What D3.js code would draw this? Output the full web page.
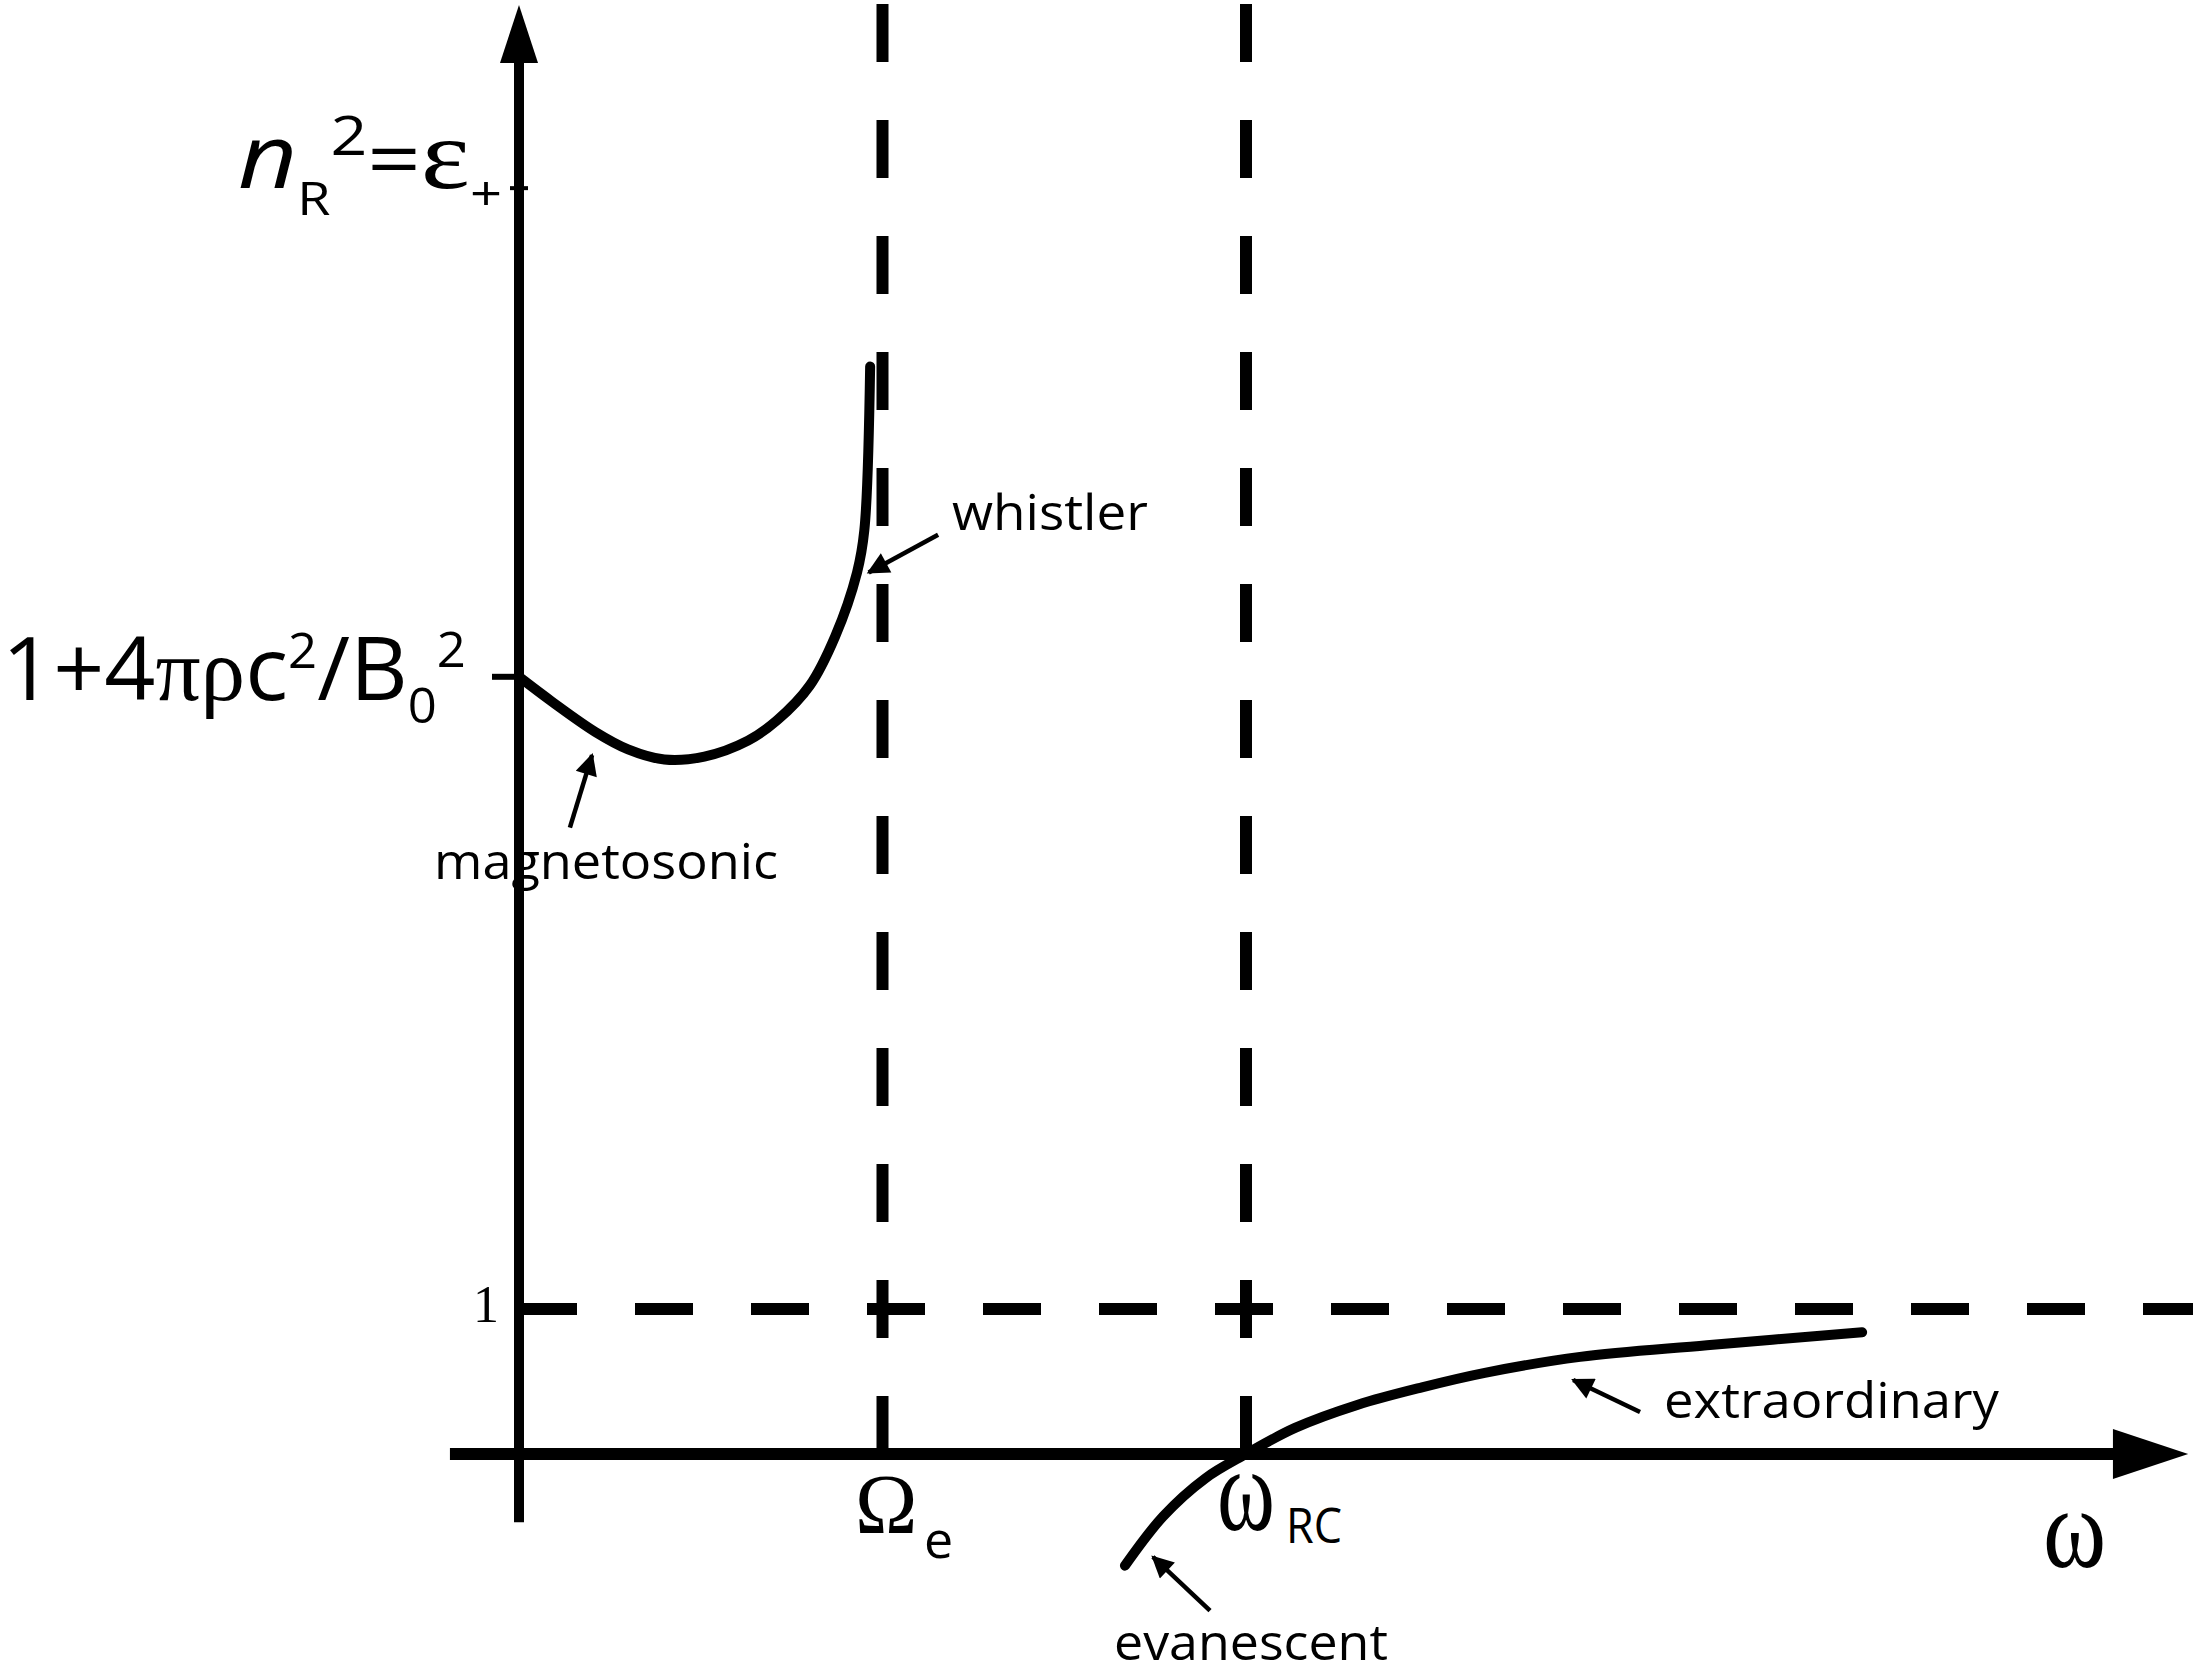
<!DOCTYPE html>
<html>
<head>
<meta charset="utf-8">
<script src="https://cdn.jsdelivr.net/npm/d3@7"></script>
<style>
  body { margin: 0; background: #fff; }
</style>
</head>
<body>
<script>
// Curve data (omega in units where Omega_e = 1, omega_RC = 2; n_R^2 with 1 at the dashed line)
const magnetoOmega = [0, 0.09, 0.21, 0.30, 0.40, 0.51, 0.63, 0.71, 0.80, 0.87, 0.93, 0.95, 0.966];
const magnetoN2 = [5.36, 5.19, 4.98, 4.86, 4.79, 4.81, 4.92, 5.06, 5.30, 5.64, 6.08, 6.37, 7.50];

const extraOmega = [1.667, 1.772, 1.887, 2.0, 2.135, 2.308, 2.484, 2.657, 2.919, 3.268, 3.695];
const extraN2 = [-0.77, -0.43, -0.17, 0, 0.18, 0.34, 0.46, 0.56, 0.67, 0.75, 0.84];

// Marked frequencies and levels
const resonances = [1, 2];          // Omega_e, omega_RC
const unityLevel = 1;
const b0Level = 5.36;               // 1 + 4 pi rho c^2 / B0^2
const epsLevel = 8.73;              // n_R^2 = eps_+

// Annotation arrows: [fromOmega, fromN2, toOmega, toN2]
const pointers = [
  [1.153, 6.34, 0.962, 6.08],   // whistler
  [0.140, 4.32, 0.201, 4.82],   // magnetosonic
  [1.901, -1.08, 1.744, -0.71], // evanescent
  [3.084, 0.29, 2.900, 0.51]    // extraordinary
];

const width = 2193;
const height = 1677;

const x = d3.scaleLinear().domain([0, 2]).range([519, 1246]);
const y = d3.scaleLinear().domain([0, 1]).range([1454, 1309]);

const svg = d3.select('body')
  .append('svg')
  .attr('width', width)
  .attr('height', height);

svg.append('defs')
  .append('marker')
  .attr('id', 'head')
  .attr('viewBox', '0 0 10 10')
  .attr('refX', 9)
  .attr('refY', 5)
  .attr('markerWidth', 26)
  .attr('markerHeight', 22)
  .attr('markerUnits', 'userSpaceOnUse')
  .attr('orient', 'auto')
  .append('path')
  .attr('d', 'M0,0L10,5L0,10z')
  .attr('fill', '#000');

// Dashed resonance lines
svg.selectAll('line.res')
  .data(resonances)
  .enter()
  .append('line')
  .attr('class', 'res')
  .attr('x1', d => x(d))
  .attr('x2', d => x(d))
  .attr('y1', y(10.0))
  .attr('y2', y(0))
  .attr('stroke', '#000')
  .attr('stroke-width', 12)
  .attr('stroke-dasharray', '58,58');

// Dashed line at n^2 = 1
svg.append('line')
  .attr('x1', x(0))
  .attr('x2', width)
  .attr('y1', y(unityLevel))
  .attr('y2', y(unityLevel))
  .attr('stroke', '#000')
  .attr('stroke-width', 12)
  .attr('stroke-dasharray', '58,58');

// Axes
svg.append('line')
  .attr('x1', x(0)).attr('x2', x(0))
  .attr('y1', y(-0.47)).attr('y2', y(9.6))
  .attr('stroke', '#000')
  .attr('stroke-width', 10);

svg.append('polygon')
  .attr('points', [[x(0), y(9.993)], [x(0) - 19, y(9.593)], [x(0) + 19, y(9.593)]].join(' '))
  .attr('fill', '#000');

svg.append('line')
  .attr('x1', x(-0.19)).attr('x2', x(4.39))
  .attr('y1', y(0)).attr('y2', y(0))
  .attr('stroke', '#000')
  .attr('stroke-width', 12);

svg.append('polygon')
  .attr('points', [[x(4.592), y(0)], [x(4.385), y(0) - 25], [x(4.385), y(0) + 25]].join(' '))
  .attr('fill', '#000');

// Ticks on the vertical axis
svg.append('line')
  .attr('x1', x(0) - 27).attr('x2', x(0))
  .attr('y1', y(b0Level)).attr('y2', y(b0Level))
  .attr('stroke', '#000').attr('stroke-width', 6);

svg.append('line')
  .attr('x1', x(0) - 9).attr('x2', x(0) + 9)
  .attr('y1', y(epsLevel)).attr('y2', y(epsLevel))
  .attr('stroke', '#000').attr('stroke-width', 4);

// Curves
const line = d3.line()
  .x(d => x(d[0]))
  .y(d => y(d[1]))
  .curve(d3.curveCatmullRom.alpha(0.5));

const curves = [
  d3.zip(magnetoOmega, magnetoN2),
  d3.zip(extraOmega, extraN2)
];

svg.selectAll('path.curve')
  .data(curves)
  .enter()
  .append('path')
  .attr('class', 'curve')
  .attr('d', line)
  .attr('fill', 'none')
  .attr('stroke', '#000')
  .attr('stroke-width', 10)
  .attr('stroke-linecap', 'round');

// Pointer arrows
svg.selectAll('line.ptr')
  .data(pointers)
  .enter()
  .append('line')
  .attr('class', 'ptr')
  .attr('x1', d => x(d[0]))
  .attr('y1', d => y(d[1]))
  .attr('x2', d => x(d[2]))
  .attr('y2', d => y(d[3]))
  .attr('stroke', '#000')
  .attr('stroke-width', 4.5)
  .attr('marker-end', 'url(#head)');

// Labels
const SANS = "'Open Sans', 'Noto Sans', sans-serif";
const SERIF = "'Liberation Serif', 'DejaVu Serif', serif";

function label(parts, x0, base, w, sy) {
  const t = svg.append('text').attr('x', 0).attr('y', 0).attr('fill', '#000');
  parts.forEach(p => {
    t.append('tspan')
      .text(p.t)
      .attr('font-size', p.size)
      .attr('font-family', p.fam || SANS)
      .attr('font-style', p.italic ? 'italic' : null)
      .attr('dy', p.dy || 0);
  });
  let sx = 1;
  let bx = 0;
  if (w) {
    const b = t.node().getBBox();
    sx = w / b.width;
    bx = b.x;
  }
  t.attr('transform', `translate(${x0},${base}) scale(${sx},${sy || 1}) translate(${-bx},0)`);
  return t;
}

label([
  { t: 'n', size: 88, italic: true },
  { t: 'R', size: 46, dy: 27 },
  { t: '2', size: 55, dy: -60 },
  { t: '=', size: 80, dy: 33 },
  { t: 'ε', size: 100, fam: SERIF },
  { t: '+', size: 48, dy: 22 }
], 238, 188, 264);

label([
  { t: '1+4', size: 88 },
  { t: 'πρ', size: 88, fam: SERIF },
  { t: 'c', size: 88 },
  { t: '2', size: 50, dy: -32 },
  { t: '/B', size: 88, dy: 32 },
  { t: '0', size: 50, dy: 23 },
  { t: '2', size: 50, dy: -56 }
], 2, 700, 464);

label([{ t: '1', size: 52, fam: SERIF }], 473, 1322);

label([{ t: 'Ω', size: 84, fam: SERIF }], 855, 1533);
label([{ t: 'e', size: 52 }], 924, 1558);
label([{ t: 'ω', size: 88, fam: SERIF }], 1217, 1530, null, 1.35);
label([{ t: 'RC', size: 50 }], 1286, 1543, 56);
label([{ t: 'ω', size: 96, fam: SERIF }], 2043, 1567, null, 1.2);

label([{ t: 'whistler', size: 50 }], 952, 530, 196);
label([{ t: 'magnetosonic', size: 50 }], 434, 879, 344);
label([{ t: 'evanescent', size: 50 }], 1114, 1660, 274);
label([{ t: 'extraordinary', size: 50 }], 1664, 1418, 336);
</script>
</body>
</html>
